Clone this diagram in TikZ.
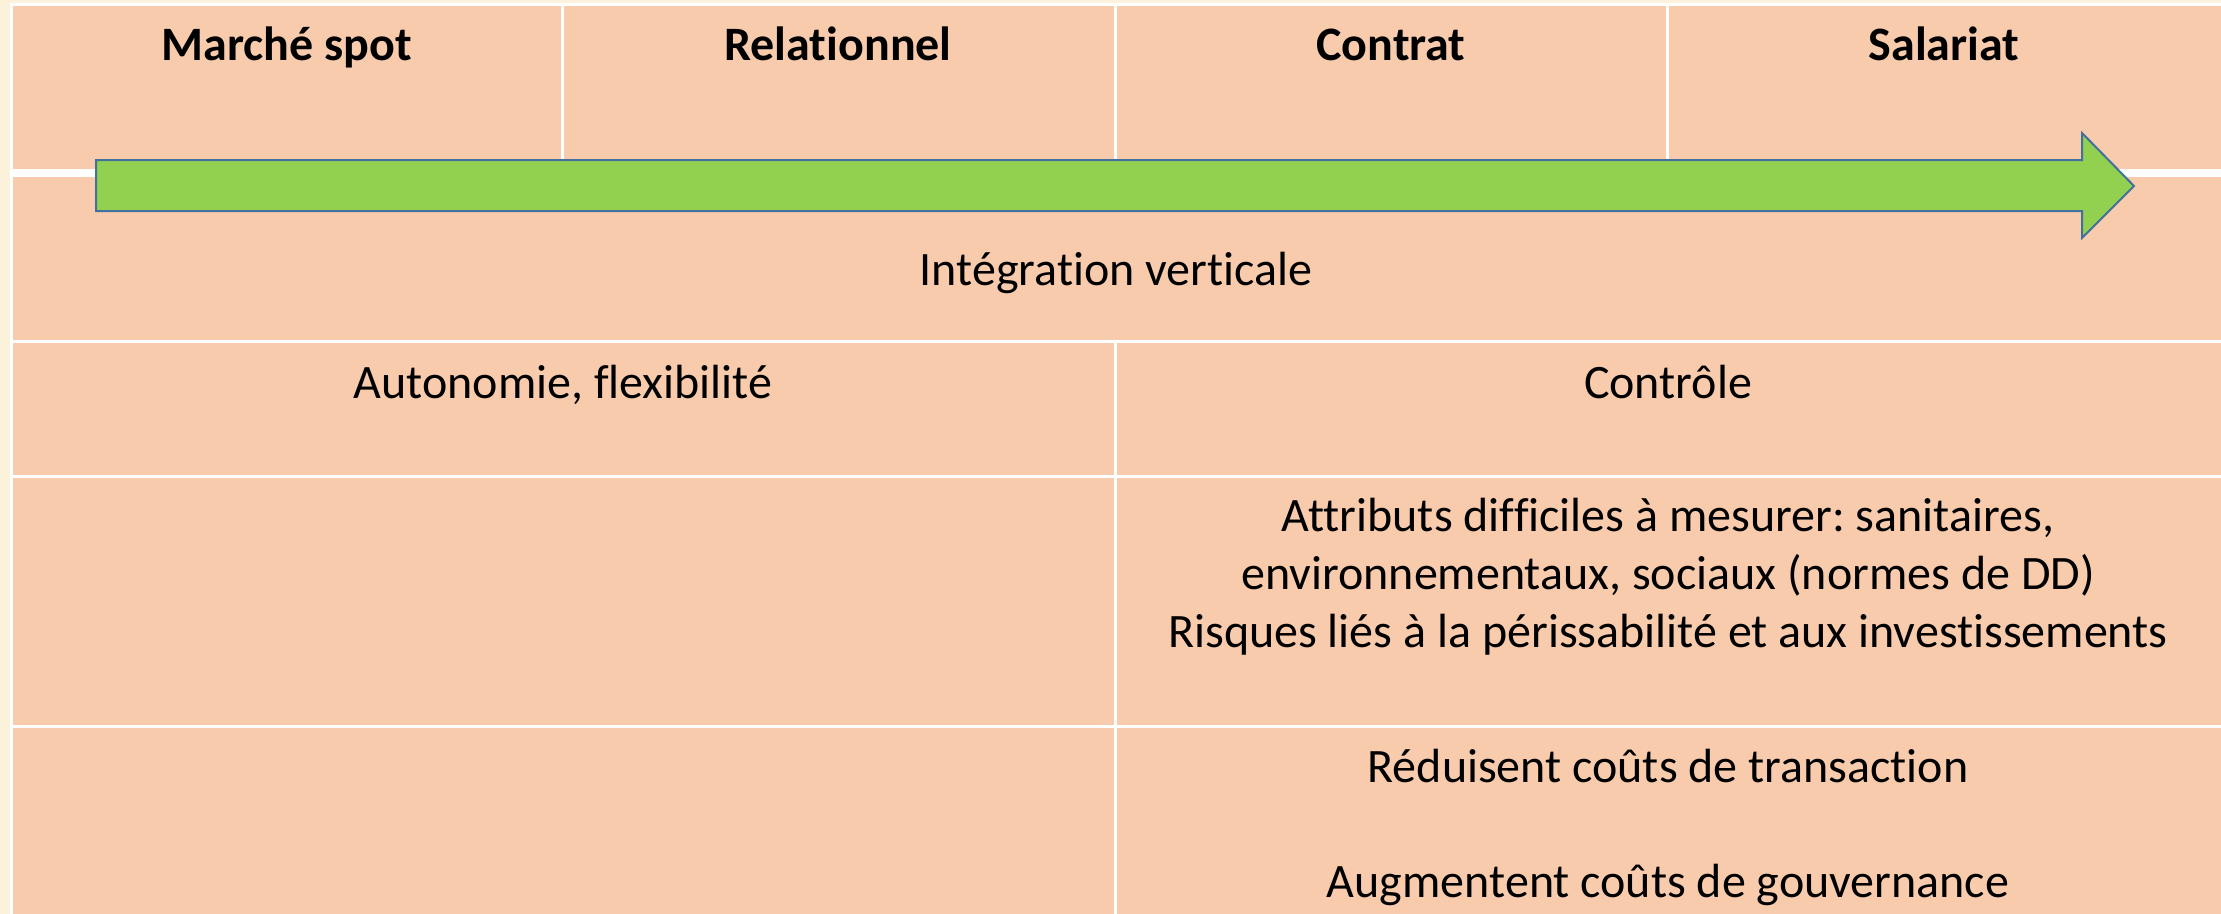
\documentclass[tikz,border=0pt]{standalone}
\usepackage{fontspec}
\setmainfont{Carlito}[RawFeature={-liga}]
\frenchspacing
\definecolor{cream}{HTML}{FCF1DA}
\definecolor{peach}{HTML}{F8CBAD}
\definecolor{arrowgreen}{HTML}{92D050}
\definecolor{arrowblue}{HTML}{41719C}
\begin{document}
\begin{tikzpicture}[x=1pt,y=-1pt,
  cell/.style={fill=peach},
  txt/.style={anchor=base,inner sep=0pt,font=\fontsize{48}{58}\selectfont},
  head/.style={txt,font=\fontsize{48}{58}\selectfont\bfseries}]
\useasboundingbox (0,0) rectangle (2221,913);
\begin{scope}
\clip (0,0) rectangle (2221,913);
\fill[cream] (-2,-2) rectangle (2224,916);
\fill[white] (10,3) rectangle (2224,916);
% header row
\fill[cell] (12.5,5.5) rectangle (561,169);
\fill[cell] (563.5,5.5) rectangle (1114,169);
\fill[cell] (1116.5,5.5) rectangle (1666,169);
\fill[cell] (1668.5,5.5) rectangle (2224,169);
% row 2
\fill[cell] (12.5,177) rectangle (2224,340);
% row 3
\fill[cell] (12.5,342.5) rectangle (1114,475);
\fill[cell] (1116.5,342.5) rectangle (2224,475);
% row 4
\fill[cell] (12.5,477.5) rectangle (1114,725);
\fill[cell] (1116.5,477.5) rectangle (2224,725);
% row 5
\fill[cell] (12.5,727.5) rectangle (1114,916);
\fill[cell] (1116.5,727.5) rectangle (2224,916);
\end{scope}
% arrow
\filldraw[fill=arrowgreen,draw=arrowblue,line width=2pt,line join=miter]
  (96,160) -- (2082,160) -- (2082,133) -- (2134,186) -- (2082,238) -- (2082,211) -- (96,211) -- cycle;
% header texts
\node[head] (h1) at (287,60) {Marché spot};
\node[head] (h2) at (838,60) {Relationnel};
\node[head] (h3) at (1391,60) {Contrat};
\node[head] (h4) at (1944,60) {Salariat};
% body texts
\node[txt] (iv) at (1116,285) {Intégration verticale};
\node[txt] (af) at (563,398) {Autonomie, flexibilité};
\node[txt] (ct) at (1668,398) {Contrôle};
\node[txt] (a1) at (1668,531) {Attributs difficiles à mesurer: sanitaires,};
\node[txt] (a2) at (1668,589) {environnementaux, sociaux (normes de DD)};
\node[txt] (a3) at (1668,647) {Risques liés à la périssabilité et aux investissements};
\node[txt] (r1) at (1668,782) {Réduisent coûts de transaction};
\node[txt] (r2) at (1668,897) {Augmentent coûts de gouvernance};
\end{tikzpicture}
\end{document}
